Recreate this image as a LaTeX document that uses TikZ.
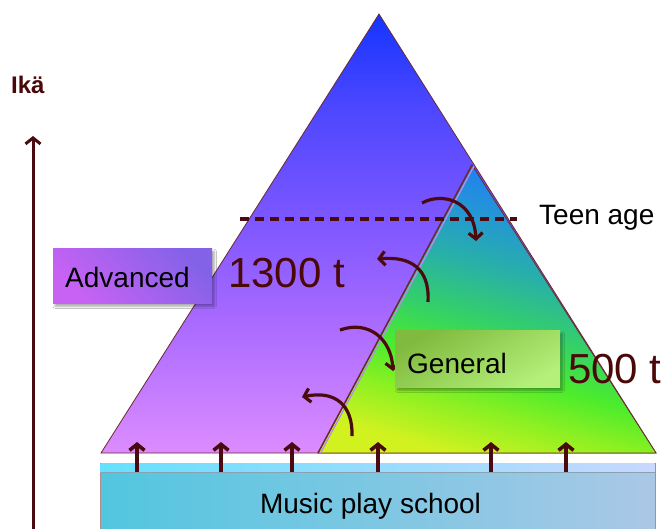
\documentclass[tikz,border=0pt]{standalone}
\usepackage{fontspec}
\setmainfont{Liberation Sans}
\usetikzlibrary{arrows.meta,shadows.blur}
\definecolor{brn}{HTML}{4B0A10}
\definecolor{edge}{HTML}{6A2A30}
\definecolor{numc}{HTML}{4A0808}
\definecolor{lav}{HTML}{B48CF0}
\definecolor{pB}{HTML}{DC8CFF}
\definecolor{pC}{HTML}{A96AFF}
\definecolor{pD}{HTML}{7B56FF}
\definecolor{pE}{HTML}{4A46FF}
\definecolor{pF}{HTML}{1434FF}
\pgfdeclareverticalshading{purpsh}{100bp}{color(0bp)=(pB); color(25bp)=(pB); color(40bp)=(pC); color(52bp)=(pD); color(65bp)=(pE); color(75bp)=(pF); color(100bp)=(pF)}
\definecolor{gA}{HTML}{D2F220}
\definecolor{gB}{HTML}{8EF022}
\definecolor{gC}{HTML}{4CEC2C}
\definecolor{gD}{HTML}{34D068}
\definecolor{gE}{HTML}{28B0A8}
\definecolor{gF}{HTML}{2494D8}
\definecolor{gG}{HTML}{1F7AF6}
\pgfdeclareverticalshading{greensh}{100bp}{color(0bp)=(gA); color(25bp)=(gA); color(33bp)=(gB); color(40bp)=(gC); color(48bp)=(gD); color(57bp)=(gE); color(66bp)=(gF); color(75bp)=(gG); color(100bp)=(gG)}
\definecolor{advtr}{HTML}{8462E8}
\definecolor{advbl}{HTML}{C862F4}
\definecolor{gentl}{HTML}{80BA3E}
\definecolor{genbr}{HTML}{B4F07A}
\definecolor{musl}{HTML}{52C6DF}
\definecolor{musr}{HTML}{AAC8E6}
\definecolor{strl}{HTML}{66E0FF}
\definecolor{strr}{HTML}{C8D8FF}
\definecolor{musedge}{HTML}{B08A90}
\begin{document}
\begin{tikzpicture}[x=1pt,y=-1pt,
  tri/.style={draw=edge,line width=0.8pt},
  uparrow/.style={draw=brn,line width=3.6pt,-{Straight Barb[length=6pt,width=15pt]}},
  carrow/.style={draw=brn,line width=3.2pt,-{Straight Barb[length=6pt,width=14pt]}},
  dashline/.style={draw=brn,line width=3.5pt,dash pattern=on 9pt off 6pt},
  lbl/.style={font=\fontsize{28}{33}\selectfont,text=black},
  numlbl/.style={font=\fontsize{42}{50}\selectfont,text=numc},
  boxshadow/.style={blur shadow={shadow xshift=2pt,shadow yshift=-3pt,shadow opacity=35,shadow blur steps=6}},
  advbox/.style={boxshadow,top color=advtr,bottom color=advbl,shading angle=-45,
    minimum width=159pt,minimum height=55pt,text width=135pt,align=left,inner xsep=12pt,inner ysep=0pt,
    text height=23pt,text depth=0pt,lbl},
  genbox/.style={boxshadow,top color=gentl,bottom color=genbr,shading angle=30,
    minimum width=165pt,minimum height=57pt,text width=141pt,align=left,inner xsep=12pt,inner ysep=0pt,
    text height=29pt,text depth=0pt,lbl},
  musbox/.style={draw=musedge,line width=0.8pt,left color=musl,right color=musr,
    minimum width=555pt,minimum height=80pt,inner sep=0pt}
]
\useasboundingbox (0,0) rectangle (668,528);
\clip (0,0) rectangle (668,528);
\fill[white] (0,0) rectangle (668,528);

% triangles
\coordinate (apex) at (379,14);
\coordinate (bl) at (101,453);
\coordinate (br) at (656,453);
\coordinate (gtop) at (472,165);
\coordinate (gbl) at (318,453);
\path[tri,shade,shading=purpsh] (apex) -- (br) -- (bl) -- cycle;
\path[tri,shade,shading=greensh,shading angle=-15] (gtop) -- (br) -- (gbl) -- cycle;
\coordinate (lv1) at (320.5,453);
\coordinate (lv2) at (474,166);
\draw[lav,line width=1.3pt] (lv1) -- (lv2);
\draw[edge,line width=1.5pt] (gbl) -- (gtop);

% teen age dashed line
\coordinate (d1) at (240,219);
\coordinate (d2) at (517,219);
\draw[dashline] (d1) -- (d2);
\node[lbl,anchor=base west,inner sep=0pt] (teen) at (539,224) {Teen age};

% numbers
\node[numlbl,anchor=base west,inner sep=0pt] (n1300) at (228,287) {1300 t};
\node[numlbl,anchor=base west,inner sep=0pt] (n500) at (568,383) {500 t};

% curved arrows
\coordinate (c1s) at (422,203);
\coordinate (c1e) at (476,241);
\draw[carrow] (c1s) .. controls (442,192) and (474,200) .. (c1e);
\coordinate (c2s) at (428,302);
\coordinate (c2e) at (377,259);
\draw[carrow] (c2s) .. controls (430,268) and (410,256) .. (c2e);
\coordinate (c3s) at (340,330);
\coordinate (c3e) at (393,371);
\draw[carrow] (c3s) .. controls (368,320) and (391,338) .. (c3e);
\coordinate (c4s) at (352,436);
\coordinate (c4e) at (302,397);
\draw[carrow] (c4s) .. controls (353,405) and (335,390) .. (c4e);

% label boxes
\node[advbox,anchor=north west] (adv) at (53,248) {Advanced};
\node[genbox,anchor=north west] (gen) at (395,330) {General};

% music play school
\node[musbox,anchor=north west] (music) at (100,463) {};
\fill[left color=strl,right color=strr] (100.5,463.5) rectangle (654.5,472);
\draw[musedge!60!musl,line width=0.8pt] (100.5,472) -- (654.5,472);
\node[lbl,anchor=base,inner sep=0pt] (mps) at (370.5,513) {Music play school};

% up arrows
\foreach \x [count=\i] in {137,221,292,378,491,566}{
  \coordinate (us\i) at (\x,472);
  \coordinate (ue\i) at (\x,442);
  \draw[uparrow] (us\i) -- (ue\i);
}

% age axis
\node[anchor=base west,inner sep=0pt,font=\bfseries\fontsize{24}{28}\selectfont,text=numc] (ika) at (11,93) {Ikä};
\coordinate (axb) at (33,540);
\coordinate (axt) at (33,136);
\draw[uparrow,line width=3pt] (axb) -- (axt);
\end{tikzpicture}
\end{document}
